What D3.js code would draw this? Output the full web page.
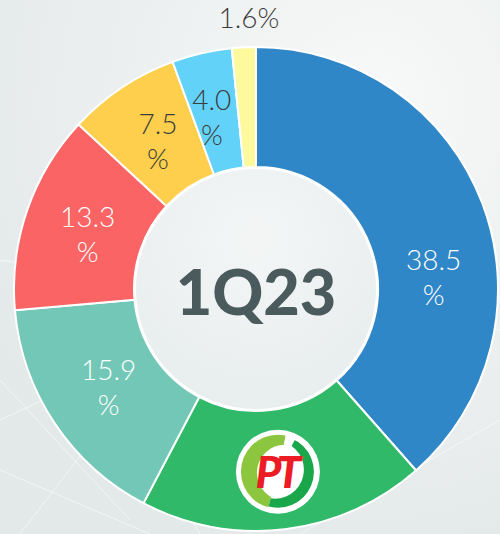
<!DOCTYPE html>
<html>
<head>
<meta charset="utf-8">
<script src="https://cdn.jsdelivr.net/npm/d3@7"></script>
<style>
  html, body { margin: 0; padding: 0; background: #eef1f1; }
  svg { display: block; }
  .lbl { font-family: 'Lato', 'Open Sans', sans-serif; font-weight: 300; font-size: 28px; }
  .center { font-family: 'Lato', 'Inter', sans-serif; font-weight: 900; font-size: 63px; fill: #4b5b5d; }
</style>
</head>
<body>
<div id="chart"></div>
<script>
// share of each segment, clockwise from 12 o'clock
var segments = ['s1', 's2', 's3', 's4', 's5', 's6', 's7']
var shares = [38.5, 19.2, 15.9, 13.3, 7.5, 4.0, 1.6]
var labels = ['38.5|%', '', '15.9|%', '13.3|%', '7.5|%', '4.0|%', '1.6%']
var period = '1Q23'

var colors = ['#2f87c8', '#2fb968', '#73c7b6', '#fa6464', '#fdcf4c', '#63d2f8', '#fdf99c']
var textColors = ['#fff', '#fff', '#fff', '#fff', '#3c3c3c', '#3c3c3c', '#3c3c3c']
// label placement tweaks (angle shift in degrees, radius)
var labelShift = [17, 0, 0, -1, 0, -1.5, 1.4]
var labelRadius = [178, 180, 177, 177, 177, 177, 271]

var W = 500, H = 534
var cx = 256, cy = 289, rOut = 242, rIn = 122

var svg = d3.select('#chart').append('svg').attr('width', W).attr('height', H)
var defs = svg.append('defs')

var bg = defs.append('radialGradient').attr('id', 'bg').attr('cx', '75%').attr('cy', '20%').attr('r', '90%')
bg.append('stop').attr('offset', '0%').attr('stop-color', '#f8f9f9')
bg.append('stop').attr('offset', '100%').attr('stop-color', '#e3e8e8')
svg.append('rect').attr('width', W).attr('height', H).attr('fill', 'url(#bg)')

// faint network lines in the backdrop
var net = [[0, 260, 500, 330], [0, 420, 260, 300], [20, 534, 200, 300], [0, 470, 150, 534], [60, 300, 200, 534], [300, 534, 500, 420], [0, 380, 130, 520]]
svg.append('g').selectAll('line').data(net).join('line')
  .attr('x1', d => d[0]).attr('y1', d => d[1]).attr('x2', d => d[2]).attr('y2', d => d[3])
  .attr('stroke', '#fff').attr('stroke-width', 1).attr('opacity', 0.6)

var pie = d3.pie().sort(null).value(d => d)
var arcs = pie(shares)
var arc = d3.arc().innerRadius(rIn).outerRadius(rOut)

var g = svg.append('g').attr('transform', 'translate(' + cx + ',' + cy + ')')

g.selectAll('path.slice').data(arcs).join('path')
  .attr('class', 'slice')
  .attr('d', arc)
  .attr('fill', (d, i) => colors[i])
  .attr('stroke', '#fff')
  .attr('stroke-width', 2)

// inner disc
var ig = defs.append('radialGradient').attr('id', 'inner').attr('cx', '50%').attr('cy', '30%').attr('r', '70%')
ig.append('stop').attr('offset', '0%').attr('stop-color', '#f4f6f6')
ig.append('stop').attr('offset', '100%').attr('stop-color', '#e8eded')
g.append('circle').attr('r', rIn - 1).attr('fill', 'url(#inner)').attr('stroke', '#fff').attr('stroke-width', 2)

g.append('text').attr('class', 'center')
  .attr('text-anchor', 'middle').attr('dy', '0.36em').attr('y', 3)
  .text(period)

// slice labels
arcs.forEach(function(d, i){
  if (!labels[i]) return
  var a = (d.startAngle + d.endAngle) / 2 + labelShift[i] * Math.PI / 180
  var x = Math.sin(a) * labelRadius[i], y = -Math.cos(a) * labelRadius[i]
  var lines = labels[i].split('|')
  var t = g.append('text').attr('class', 'lbl')
    .attr('text-anchor', 'middle')
    .attr('fill', textColors[i])
  lines.forEach(function(s, k){
    t.append('tspan').attr('x', x)
      .attr('y', y + (k - (lines.length - 1) / 2) * 35)
      .attr('dy', '0.36em')
      .text(s)
  })
})

// company logo sits on the unlabeled segment
var la = (arcs[1].startAngle + arcs[1].endAngle) / 2
var logo = g.append('g').attr('transform', 'translate(' + (Math.sin(la) * 184) + ',' + (-Math.cos(la) * 184) + ')')
logo.append('circle').attr('r', 42).attr('fill', '#fff')

function crescent(rO, rI, dx, dy){
  return 'M' + rO + ',0A' + rO + ',' + rO + ' 0 1,1 ' + (-rO) + ',0A' + rO + ',' + rO + ' 0 1,1 ' + rO + ',0Z' +
    'M' + (dx + rI) + ',' + dy + 'A' + rI + ',' + rI + ' 0 1,1 ' + (dx - rI) + ',' + dy + 'A' + rI + ',' + rI + ' 0 1,1 ' + (dx + rI) + ',' + dy + 'Z'
}
defs.append('clipPath').attr('id', 'lg').append('path')
  .attr('d', d3.arc().innerRadius(0).outerRadius(50).startAngle(195 * Math.PI / 180).endAngle(372 * Math.PI / 180)())
defs.append('clipPath').attr('id', 'dg').append('path')
  .attr('d', d3.arc().innerRadius(0).outerRadius(50).startAngle(28 * Math.PI / 180).endAngle(195 * Math.PI / 180)())

logo.append('path').attr('d', crescent(37, 28, 7, 1)).attr('fill-rule', 'evenodd')
  .attr('fill', '#8cc63f').attr('clip-path', 'url(#lg)')
logo.append('path').attr('d', crescent(36, 29, -3, -2)).attr('fill-rule', 'evenodd')
  .attr('fill', '#1aa64a').attr('clip-path', 'url(#dg)')
logo.append('text')
  .attr('text-anchor', 'middle').attr('dy', '0.35em').attr('x', -2).attr('y', 1)
  .attr('font-family', 'Lato, sans-serif').attr('font-weight', 900).attr('font-style', 'italic')
  .attr('font-size', 44).attr('fill', '#ec1c24').attr('letter-spacing', -5)
  .text('PT')
</script>
</body>
</html>
